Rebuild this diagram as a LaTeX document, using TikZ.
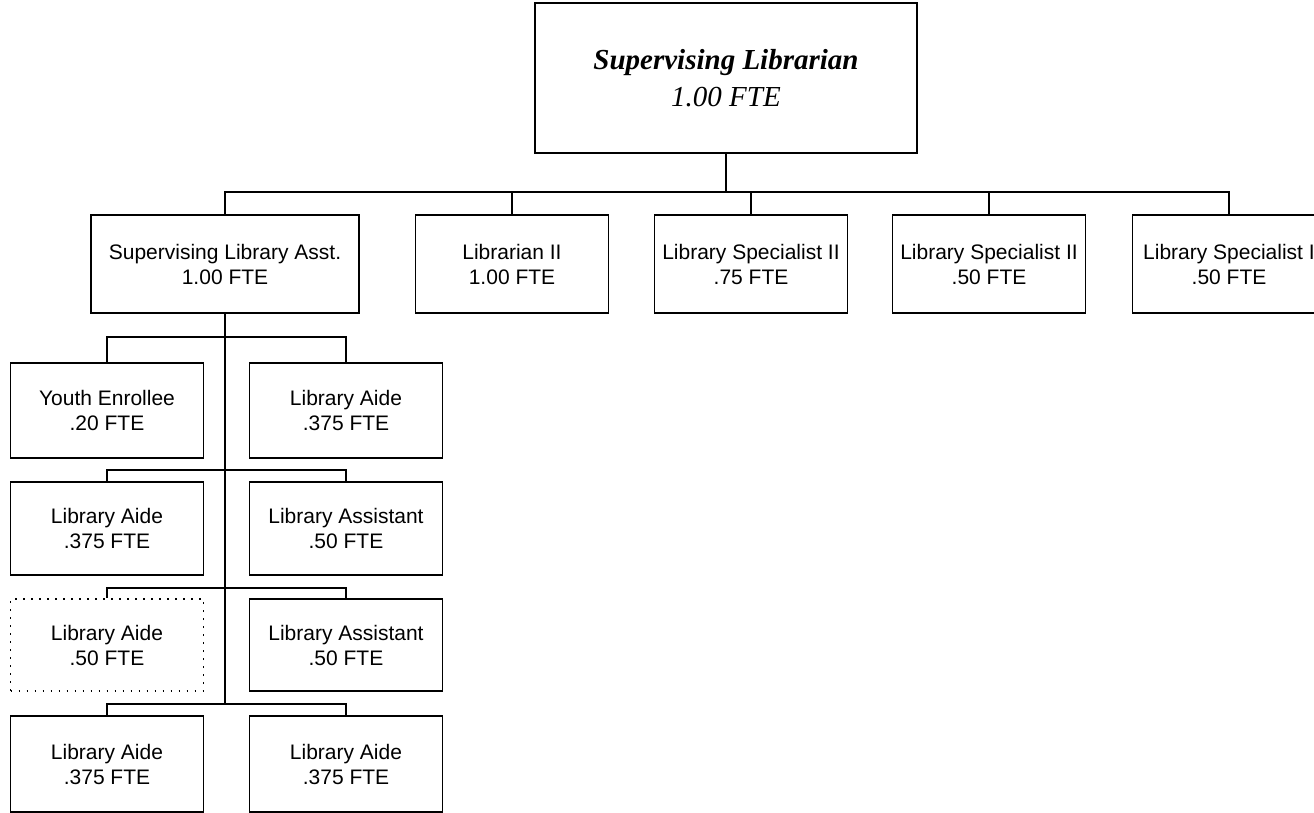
\documentclass[tikz,border=0pt]{standalone}
\usepackage{fontspec}
\setmainfont{Liberation Serif}
\setsansfont{Liberation Sans}
\begin{document}
\begin{tikzpicture}[x=1pt,y=-1pt,
  box/.style={draw, line width=1.8pt, align=center, inner sep=0pt,
    font=\sffamily\fontsize{21}{25}\selectfont,
    minimum width=193pt, minimum height=95pt},
  headbox/.style={draw, line width=1.8pt, align=center, inner sep=0pt,
    font=\rmfamily\fontsize{29}{37}\selectfont,
    minimum width=382pt, minimum height=150pt},
  vacant/.style={box, dash pattern=on 1.8pt off 6.2pt},
  link/.style={line width=1.1pt}]
\useasboundingbox (0,0) rectangle (1314,813);

% head of the unit
\node[headbox] (head) at (726,78) {\textbf{\textit{Supervising Librarian}}\\\textit{1.00 FTE}};

% direct reports
\node[box, minimum width=268pt, minimum height=98pt] (sla) at (225,264) {Supervising Library Asst.\\1.00 FTE};
\node[box, minimum height=98pt] (lib2) at (512,264) {Librarian II\\1.00 FTE};
\node[box, minimum height=98pt] (spec1) at (751,264) {Library Specialist II\\.75 FTE};
\node[box, minimum height=98pt] (spec2) at (989,264) {Library Specialist II\\.50 FTE};
\node[box, minimum height=98pt] (spec3) at (1229,264) {Library Specialist I\\.50 FTE};

% staff under the supervising library assistant
\node[box] (y1) at (107,410.5) {Youth Enrollee\\.20 FTE};
\node[box] (a1) at (346,410.5) {Library Aide\\.375 FTE};
\node[box, minimum height=93pt] (a2) at (107,528.5) {Library Aide\\.375 FTE};
\node[box, minimum height=93pt] (as1) at (346,528.5) {Library Assistant\\.50 FTE};
\node[vacant, minimum height=92pt] (a3) at (107,645) {Library Aide\\.50 FTE};
\node[box, minimum height=92pt] (as2) at (346,645) {Library Assistant\\.50 FTE};
\node[box, minimum height=96pt] (a4) at (107,764) {Library Aide\\.375 FTE};
\node[box, minimum height=96pt] (a5) at (346,764) {Library Aide\\.375 FTE};

% junction points
\coordinate (bus) at (726,192);
\coordinate (j1) at (225,337);
\coordinate (j2) at (225,470);
\coordinate (j3) at (225,588);
\coordinate (j4) at (225,704);

% top level connectors
\draw[link] (head.south) -- (bus);
\draw[link] (sla.north) |- (bus) -| (spec3.north);
\draw[link] (lib2.north) -- (lib2.north |- bus);
\draw[link] (spec1.north) -- (spec1.north |- bus);
\draw[link] (spec2.north) -- (spec2.north |- bus);

% trunk and branches
\draw[link] (sla.south) -- (j4);
\draw[link] (y1.north) |- (j1) -| (a1.north);
\draw[link] (a2.north) |- (j2) -| (as1.north);
\draw[link] (a3.north) |- (j3) -| (as2.north);
\draw[link] (a4.north) |- (j4) -| (a5.north);
\end{tikzpicture}
\end{document}
